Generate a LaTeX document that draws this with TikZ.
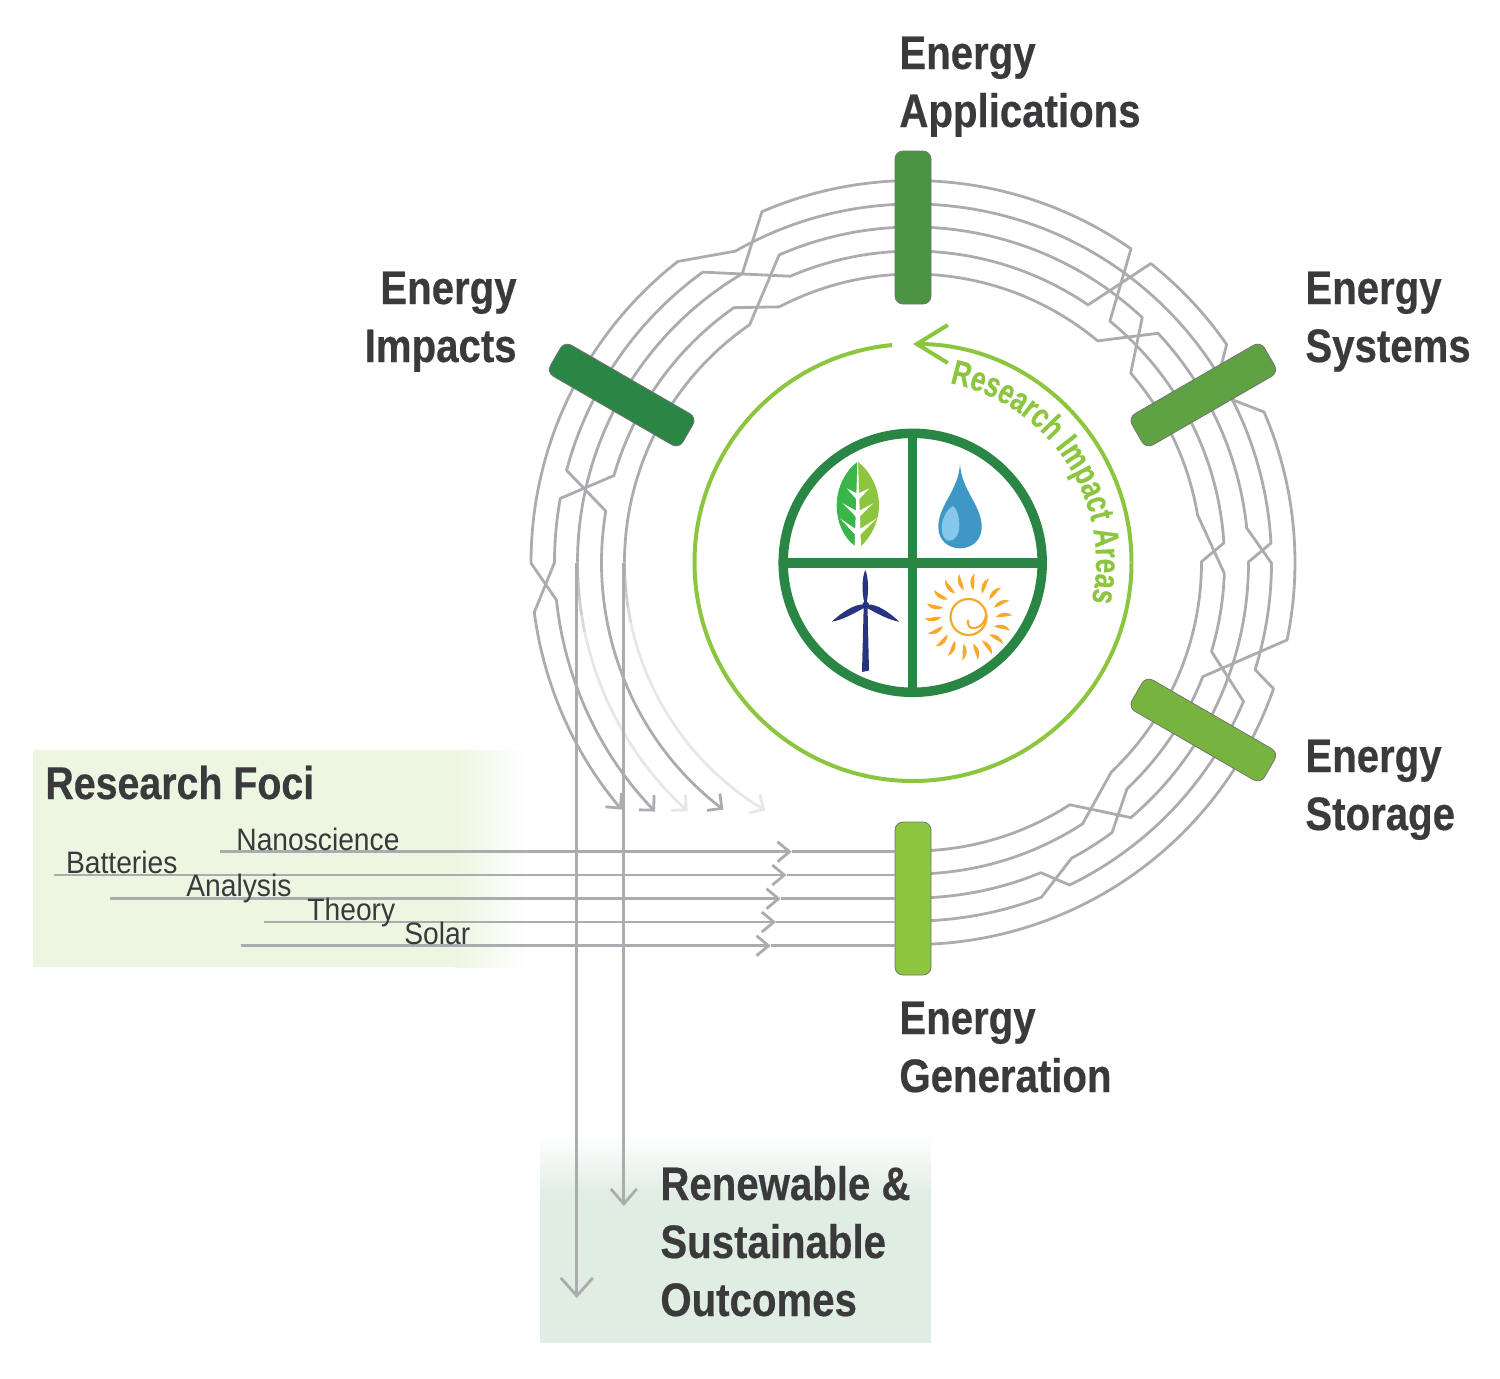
\documentclass[tikz,border=0pt]{standalone}
\usepackage{fontspec}
\usetikzlibrary{arrows.meta,decorations.text}
\setmainfont{Liberation Sans}
\newfontfamily\headfam[FakeStretch=0.855,BoldFeatures={FakeBold=0.4}]{Liberation Sans}
\newfontfamily\ringfam[FakeStretch=0.75,BoldFeatures={FakeBold=0.3}]{Liberation Sans}
\newfontfamily\lblfam[FakeStretch=0.91]{Liberation Sans}
\definecolor{ringgray}{HTML}{ABACB0}
\definecolor{lightgray2}{HTML}{E6E7E8}
\definecolor{txt}{HTML}{3A3A3C}
\definecolor{lime}{HTML}{8CC63F}
\definecolor{dkgreen}{HTML}{2A8645}
\definecolor{fociback}{HTML}{EDF6E1}
\definecolor{outback}{HTML}{E0EDE3}
\newcommand{\rar}[3]{arc[start angle=#2,end angle=#3,radius=#1]}
\tikzset{
  upsc/.style={shift={#1},y=.5pt},
  ringline/.style={draw=ringgray,line width=1.4pt,line join=round},
  fadeline/.style={draw=lightgray2,line width=1.4pt},
  tipsmall/.style={-{Straight Barb[length=5.3pt,width=10.6pt]}},
  tipside/.style={-{Straight Barb[length=6pt,width=10pt]}},
  tiplong/.style={-{Straight Barb[length=9pt,width=16pt]}},
  tipshort/.style={-{Straight Barb[length=7.5pt,width=13pt]}},
  barbox/.style={draw=black!55,line width=.4pt,rounded corners=4pt,minimum width=76.5pt,minimum height=18pt,inner sep=0pt},
  headlbl/.style={text=txt,font=\headfam\bfseries\fontsize{23.5}{29}\selectfont,inner sep=0pt},
  smalllbl/.style={text=txt,font=\lblfam\fontsize{15.5}{18}\selectfont,inner sep=0pt,anchor=base west},
}
\begin{document}
\begin{tikzpicture}[x=.5pt,y=-.5pt]
\useasboundingbox (0,0) rectangle (1500,1378);
% backgrounds
\fill[fociback] (33,750) rectangle (455,967);
\shade[left color=fociback,right color=white] (455,750) rectangle (527,967);
\fill[outback] (540,1195) rectangle (930.5,1343);
\shade[top color=white,bottom color=outback] (540,1135) rectangle (930.5,1195);
% rings
\begin{scope}[upsc={(913,562.5)}]
\def\Ra{288.5}\def\Rb{311.5}\def\Rc{335.5}\def\Rd{358.5}\def\Re{382}
\draw[ringline,tipsmall] (-90:\Ra) \rar{\Ra}{-90}{-57.1} -- (-49.5:\Rc) \rar{\Rc}{-49.5}{0.1} -- (3.1:\Rd) \rar{\Rd}{3.1}{31.5} -- (34.8:\Re) \rar{\Re}{34.8}{51.5} -- (55.8:\Rb) \rar{\Rb}{55.8}{113.2} -- (125.9:\Rd) \rar{\Rd}{125.9}{165.1} -- (170.5:\Rb) \rar{\Rb}{170.5}{232.5};
\draw[ringline,tipsmall] (-90:\Rd) \rar{\Rd}{-90}{-69} -- (-61.8:\Rc) \rar{\Rc}{-61.8}{-53.6} -- (-46.6:\Rb) \rar{\Rb}{-46.6}{-21.5} -- (-11.7:\Re) \rar{\Re}{-11.7}{23.2} -- (27:\Rd) \rar{\Rd}{27}{119.7} -- (128:\Re) \rar{\Re}{128}{180.1} -- (186:\Rd) \rar{\Rd}{186}{224};
\draw[ringline] (-90:\Rb) \rar{\Rb}{-90}{-57} -- (-46.6:\Ra) \rar{\Ra}{-46.6}{0.16} -- (3.6:\Rb) \rar{\Rb}{3.6}{50.8} -- (55.2:\Re) \rar{\Re}{55.2}{113.3} -- (120.6:\Rc) \rar{\Rc}{120.6}{180};
\draw[ringline] (-90:\Rc) \rar{\Rc}{-90}{-67.6} -- (-64.1:\Rd) \rar{\Rd}{-64.1}{-22.8} -- (-16.6:\Rb) \rar{\Rb}{-16.6}{-2} -- (9.5:\Ra) \rar{\Ra}{9.5}{41} -- (46.9:\Rc) \rar{\Rc}{46.9}{113.5} -- (124.5:\Ra) \rar{\Ra}{124.5}{180};
\draw[ringline,tipsmall] (-90:\Re) \rar{\Re}{-90}{-19.3} -- (-17.4:\Rd) \rar{\Rd}{-17.4}{-0.1} -- (5.9:\Rc) \rar{\Rc}{5.9}{43.1} -- (50.2:\Ra) \rar{\Ra}{50.2}{117.6} -- (125.1:\Rb) \rar{\Rb}{125.1}{163.8} -- (169.7:\Rd) \rar{\Rd}{169.7}{180} -- (187.5:\Re) \rar{\Re}{187.5}{220.3};
% fading branches
\foreach \aa/\bb/\mx in {180/183/80,183/186/60,186/189/40,189/192/20}{
  \draw[line width=1.4pt,draw=ringgray!\mx!lightgray2] (\aa:\Rc) \rar{\Rc}{\aa}{\bb};
  \draw[line width=1.4pt,draw=ringgray!\mx!lightgray2] (\aa:\Ra) \rar{\Ra}{\aa}{\bb};
}
\draw[fadeline,tipsmall] (192:\Rc) \rar{\Rc}{192}{227.8};
\draw[fadeline,tipsmall] (192:\Ra) \rar{\Ra}{192}{239.2};
% green ring
\draw[draw=lime,line width=2pt] (95.5:218.5) \rar{218.5}{95.5}{360};
\draw[draw=lime,line width=2pt,-{Straight Barb[length=15.5pt,width=19pt]}] (0:218.5) \rar{218.5}{0}{90};
\path[decorate,decoration={text along path,text align={align=center},
  text={|\ringfam\bfseries\fontsize{17.5}{20}\selectfont\color{lime}|Research Impact Areas}}]
  (94:183) \rar{183}{94}{-28};
\end{scope}
% long vertical arrows
\coordinate (vlong) at (576.8,563);
\coordinate (vshort) at (623.8,563);
\coordinate (longend) at (576.8,1298);
\coordinate (shortend) at (623.8,1206);
\draw[ringline,tiplong] (vlong) -- (longend);
\draw[ringline,tipshort] (vshort) -- (shortend);
% bars
\node[barbox,fill=lime,rotate=90] (gen) at (913,898.5) {};
\node[barbox,fill={rgb,255:red,118;green,180;blue,63},rotate=-30] (sto) at (1203.3,730) {};
\node[barbox,fill={rgb,255:red,95;green,162;blue,67},rotate=30] (sys) at (1203.3,395) {};
\node[barbox,fill={rgb,255:red,76;green,148;blue,68},rotate=90] (app) at (913,227.5) {};
\node[barbox,fill=dkgreen,rotate=-30] (imp) at (621.7,395) {};
% foci lines
\foreach \nm/\xs/\ys/\xt in {a/220/851.7/791.7,b/54/875/786.5,c/110/898.7/780.7,d/264/922/776,e/240.7/945.7/770.7}{
  \coordinate (fs\nm) at (\xs,\ys);
  \coordinate (ft\nm) at (\xt,\ys);
  \draw[ringline,tipside] (fs\nm) -- (ft\nm);
  \draw[ringline] (ft\nm) -- (ft\nm -| gen.north);
}
% labels (a multi-line node's base is its last line)
\node[headlbl,anchor=base west,align=left] (lapp) at (899,127) {Energy\\Applications};
\node[headlbl,anchor=base east,align=right] (limp) at (517,362) {Energy\\Impacts};
\node[headlbl,anchor=base west,align=left] (lsys) at (1305,362) {Energy\\Systems};
\node[headlbl,anchor=base west,align=left] (lsto) at (1305,830) {Energy\\Storage};
\node[headlbl,anchor=base west,align=left] (lgen) at (899,1092) {Energy\\Generation};
\node[headlbl,anchor=base west,align=left] (lout) at (660,1316) {Renewable \&\\Sustainable\\Outcomes};
\node[headlbl,anchor=base west,font=\headfam\bfseries\fontsize{23}{29}\selectfont] (lfoci) at (45,799) {Research Foci};
\node[smalllbl] (lnano) at (236,850) {Nanoscience};
\node[smalllbl] (lbat) at (65.7,873) {Batteries};
\node[smalllbl] (lana) at (186,896.7) {Analysis};
\node[smalllbl] (lthe) at (307,920) {Theory};
\node[smalllbl] (lsol) at (404,944) {Solar};
% emblem
\draw[draw=dkgreen,line width=4.75pt] (912.7,562.8) circle[radius=129.5];
\draw[draw=dkgreen,line width=4.75pt] (912.7,433) -- (912.7,692.5) (783,562.8) -- (1042.5,562.8);
% leaf
\fill[fill={rgb,255:red,57;green,181;blue,74}] (857.7,461.7) .. controls (846,470) and (836.7,487) .. (836.7,505) .. controls (836.7,522) and (843,537) .. (855,546) -- (857.7,546) -- cycle;
\fill[fill=lime] (857.7,461.7) .. controls (869,470) and (879,487) .. (879,505) .. controls (879,522) and (871,537) .. (861,546) -- (857.7,546) -- cycle;
\fill[white] (857.4,462) -- (858,462) -- (861,547) -- (854.6,547) -- cycle;
\foreach \l/\r/\t/\c in {846.7/869.3/488.3/497.3,842.7/873.3/503.3/515,840/876.7/518.3/534}{
  \fill[white] (\l,\t) -- (857.7,\c-3.5) -- (\r,\t) -- (857.7,\c+3.5) -- cycle;
}
% drop
\fill[fill={rgb,255:red,63;green,151;blue,198}] (960,463.3) .. controls (961,490) and (981.7,505) .. (981.7,527) .. controls (981.7,541) and (971,548.3) .. (960,548.3) .. controls (949,548.3) and (938.3,541) .. (938.3,527) .. controls (938.3,505) and (959,490) .. (960,463.3) -- cycle;
\fill[fill={rgb,255:red,134;green,200;blue,236}] (952.7,506) .. controls (946,510) and (941.7,520) .. (941.7,528) .. controls (941.7,537) and (946,540.7) .. (949,540.7) .. controls (955,540.7) and (959.3,535) .. (959.3,525) .. controls (959.3,516) and (956,507) .. (952.7,506) -- cycle;
% turbine
\definecolor{navy2}{HTML}{27357F}
\fill[navy2] (863.7,606) -- (867.5,606) -- (869,670.5) -- (862,672) -- cycle;
\fill[navy2] (865.3,570) .. controls (869,578) and (868.5,595) .. (866.5,603) -- (864.5,603) .. controls (862,595) and (861.5,578) .. (865.3,570) -- cycle;
\fill[navy2] (831.7,621.7) .. controls (842,612) and (855,604) .. (863,604.5) -- (864,608) .. controls (853,614) and (842,620) .. (831.7,621.7) -- cycle;
\fill[navy2] (899.3,621.7) .. controls (889,612) and (877,604) .. (868,604.5) -- (867,608) .. controls (878,614) and (889,620) .. (899.3,621.7) -- cycle;
\fill[navy2] (865.7,605) circle[radius=3.5];
% sun
\definecolor{sunor}{HTML}{F8A92B}
\begin{scope}[upsc={(968.5,617)}]
\foreach \a in {0,20,...,340}{
  \fill[sunor] (\a:27) .. controls ({\a+9}:32) and ({\a+9}:39) .. ({\a+2}:44) .. controls ({\a+2}:38) and ({\a-2}:32) .. (\a:27) -- cycle;
}
\draw[sunor,line width=1.1pt] (0:18) \rar{18}{0}{360};
\end{scope}
\draw[sunor,line width=1.1pt] (986,612) .. controls (987,622) and (979,629) .. (972,628) .. controls (969,627.5) and (967.5,624) .. (968,620);
\end{tikzpicture}
\end{document}
